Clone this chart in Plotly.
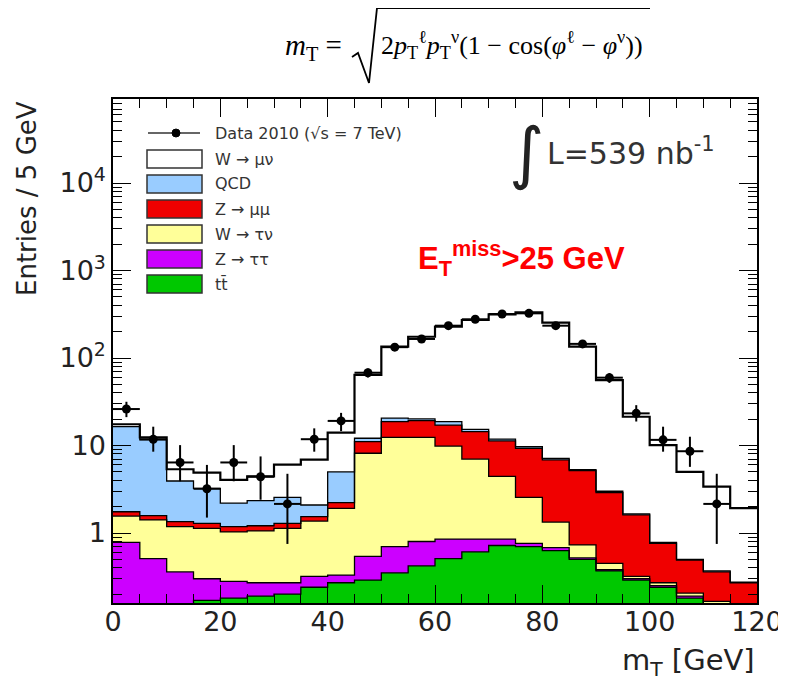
import plotly.graph_objects as go
import numpy as np

# ---- data ----
mt_bin_low = [0, 5, 10, 15, 20, 25, 30, 35, 40, 45, 50, 55, 60, 65, 70, 75, 80, 85, 90, 95, 100, 105, 110, 115]
bin_width = 5

ttbar   = [0.05, 0.08, 0.14, 0.17, 0.18, 0.19, 0.20, 0.24, 0.27, 0.29, 0.35, 0.42, 0.51, 0.61, 0.72, 0.70, 0.63, 0.50, 0.37, 0.29, 0.24, 0.18, 0.15, 0.10]
ztautau = [0.73, 0.43, 0.22, 0.13, 0.10, 0.08, 0.07, 0.08, 0.06, 0.25, 0.35, 0.38, 0.34, 0.24, 0.13, 0.06, 0.05, 0.02, 0.01, 0.01, 0.01, 0.01, 0.005, 0.01]
wtaunu  = [0.78, 0.90, 0.82, 0.83, 0.75, 0.79, 0.86, 1.05, 1.58, 7.61, 11.7, 11.6, 9.01, 6.15, 3.58, 1.80, 0.65, 0.21, 0.07, 0.02, 0.02, 0.015, 0.01, 0.01]
zmumu   = [0.19, 0.17, 0.17, 0.16, 0.15, 0.15, 0.16, 0.17, 0.31, 2.95, 6.3, 6.8, 7.24, 7.4, 6.87, 6.74, 5.52, 4.42, 2.44, 1.29, 0.49, 0.285, 0.195, 0.15]
qcd     = [14.65, 10.02, 2.58, 1.95, 1.01, 1.14, 1.27, 0.55, 2.78, 1.0, 1.8, 0.9, 1.6, 0.9, 0.5, 0.4, 0.29, 0.15, 0.11, 0.04, 0.02, 0.01, 0.01, 0.005]
wmunu   = [1.1, 0.8, 1.42, 1.65, 1.85, 2.08, 3.48, 4.81, 9.0, 51.9, 114.5, 154.9, 209.3, 256.7, 304.2, 323.3, 245.9, 129.7, 53.0, 19.65, 9.32, 4.5, 3.02, 1.645]

data_counts = [26.1, 11.8, 6.4, 3.2, 6.4, 4.4, 2.15, 11.8, 19.1, 67.9, 133, 165, 234, 277, 318, 324, 234, 145, 59.6, 23.3, 11.6, 8.6, 2.15, None]
data_err_up = [5.5, 4.6, 3.7, 2.8, 3.7, 3.1, 2.6, 3.9, 4.5, 8, 11.5, 13, 15, 17, 18, 18, 15, 12, 7.7, 5.6, 4.8, 4.0, 2.6, None]
data_err_dn = [5.0, 3.3, 2.5, 1.7, 2.5, 2.0, 1.4, 3.3, 4.5, 8, 11.5, 13, 15, 17, 18, 18, 15, 12, 7.7, 4.5, 3.1, 2.9, 1.4, None]

layers = [  # bottom -> top
    ("tt\u0304", ttbar, "#00c800"),
    ("Z \u2192 \u03c4\u03c4", ztautau, "#cc00ff"),
    ("W \u2192 \u03c4\u03bd", wtaunu, "#ffff99"),
    ("Z \u2192 \u03bc\u03bc", zmumu, "#f00000"),
    ("QCD", qcd, "#99ccff"),
    ("W \u2192 \u03bc\u03bd", wmunu, "#ffffff"),
]

lo = np.array(mt_bin_low, dtype=float)
centers = lo + bin_width / 2
edges = np.append(lo, lo[-1] + bin_width)
cums = np.cumsum(np.array([l[1] for l in layers]), axis=0)

fig = go.Figure()
for (name, vals, col), cum in reversed(list(zip(layers, cums))):
    fig.add_trace(go.Bar(x=centers, y=cum, width=bin_width, marker=dict(color=col, line=dict(width=0)),
                         showlegend=False, hoverinfo="skip"))
for i, cum in enumerate(cums):
    fig.add_trace(go.Scatter(x=edges, y=np.append(cum, cum[-1]), mode="lines", line_shape="hv",
                             line=dict(color="black", width=2.2 if i == len(cums) - 1 else 1.3),
                             showlegend=False, hoverinfo="skip"))

mask = [v is not None for v in data_counts]
fig.add_trace(go.Scatter(
    x=centers[mask], y=[v for v in data_counts if v is not None], mode="markers",
    marker=dict(color="black", size=9),
    error_y=dict(type="data", symmetric=False, array=[v for v in data_err_up if v is not None],
                 arrayminus=[v for v in data_err_dn if v is not None], thickness=2, width=0, color="black"),
    error_x=dict(type="constant", value=bin_width / 2, thickness=2, width=0, color="black"),
    showlegend=False))

# plot area in screen pixels (page has an 8px body margin)
OFF = 8
L, R, T, B = 113, 757, 99, 603
def PX(p): return (p - L) / (R - L)
def PY(p): return (B - p) / (B - T)

shapes = []
ann = []
tick_font = dict(family="DejaVu Sans", size=27, color="#222")

# manual legend
leg_font = dict(family="DejaVu Sans", size=16, color="#333")
shapes.append(dict(type="line", xref="paper", yref="paper", x0=PX(148), x1=PX(200), y0=PY(133), y1=PY(133),
                   line=dict(color="#333", width=1.5)))
shapes.append(dict(type="circle", xref="paper", yref="paper", x0=PX(172), x1=PX(180), y0=PY(137), y1=PY(129),
                   fillcolor="black", line=dict(color="black", width=1)))
ann.append(dict(text="Data 2010 (\u221as = 7 TeV)", x=PX(213), y=PY(133), xref="paper", yref="paper",
                xanchor="left", yanchor="middle", showarrow=False, font=dict(family="DejaVu Sans", size=16, color="#333")))
for k, (name, vals, col) in enumerate(reversed(layers)):
    yc = 159 + 25 * k
    shapes.append(dict(type="rect", xref="paper", yref="paper", x0=PX(147), x1=PX(202), y0=PY(yc + 9), y1=PY(yc - 9),
                       fillcolor=col, line=dict(color="#333", width=1.5)))
    ann.append(dict(text=name, x=PX(213), y=PY(yc), xref="paper", yref="paper", xanchor="left", yanchor="middle",
                    showarrow=False, font=leg_font))

# luminosity
ann.append(dict(text="\u222b", x=PX(526), y=PY(153), xref="paper", yref="paper", xanchor="center", yanchor="middle",
                showarrow=False, font=dict(family="DejaVu Sans", size=68, color="#222")))
ann.append(dict(text="L=539 nb<sup>-1</sup>", x=PX(545), y=PY(152), xref="paper", yref="paper", xanchor="left",
                yanchor="middle", showarrow=False, font=dict(family="DejaVu Sans", size=30, color="#333")))
# MET cut
ann.append(dict(text="<b>E<sub>T</sub><sup>miss</sup>&gt;25 GeV</b>", x=PX(416), y=PY(258), xref="paper", yref="paper",
                xanchor="left", yanchor="middle", showarrow=False,
                font=dict(family="Liberation Sans", size=31, color="#ff0000")))
# axis titles
ann.append(dict(text="Entries / 5 GeV", x=PX(27), y=PY(199), xref="paper", yref="paper", textangle=-90,
                xanchor="center", yanchor="middle", showarrow=False, font=dict(family="DejaVu Sans", size=26, color="#222")))
ann.append(dict(text="m<sub>T</sub> [GeV]", x=PX(757), y=PY(662), xref="paper", yref="paper",
                xanchor="right", yanchor="middle", showarrow=False, font=dict(family="DejaVu Sans", size=29, color="#222")))
# formula
ann.append(dict(text="<i>m</i><sub>T</sub> =", x=PX(283), y=PY(47), xref="paper", yref="paper",
                xanchor="left", yanchor="middle", showarrow=False, font=dict(family="Liberation Serif", size=29, color="black")))
ann.append(dict(text="2<i>p</i><sub>T</sub><sup>\u2113</sup><i>p</i><sub>T</sub><sup>\u03bd</sup>(1 \u2212 cos(<i>\u03c6</i><sup>\u2113</sup> \u2212 <i>\u03c6</i><sup>\u03bd</sup>))",
                x=PX(379), y=PY(45), xref="paper", yref="paper",
                xanchor="left", yanchor="middle", showarrow=False, font=dict(family="Liberation Serif", size=26, color="black")))
shapes.append(dict(type="path", xref="paper", yref="paper",
                   path=f"M {PX(352)},{PY(57)} L {PX(358)},{PY(53)} L {PX(369)},{PY(83)} L {PX(377)},{PY(8)} L {PX(650)},{PY(8)}",
                   line=dict(color="black", width=1.8)))

fig.update_layout(
    template="none",
    width=786, height=686,
    margin=dict(l=L - OFF, r=786 - R + OFF, t=T - OFF, b=686 - B + OFF, autoexpand=False),
    plot_bgcolor="white", paper_bgcolor="white", barmode="overlay", bargap=0,
    showlegend=False, shapes=shapes, annotations=ann,
    xaxis=dict(range=[0, 120], tickvals=[0, 20, 40, 60, 80, 100, 120], ticks="inside", ticklen=18,
               tickwidth=1.2, tickcolor="black", mirror="allticks", showline=True, linecolor="black", linewidth=1.5,
               showgrid=False, zeroline=False, tickfont=tick_font, automargin=False, ticklabelstandoff=-6,
               minor=dict(ticks="inside", ticklen=9, dtick=5, tick0=0, tickcolor="black", showgrid=False)),
    yaxis=dict(type="log", range=[-0.80, 4.96], tickvals=[1, 10, 100, 1000, 10000],
               ticktext=["1", "10", "10<sup>2</sup>", "10<sup>3</sup>", "10<sup>4</sup>"],
               ticks="inside", ticklen=18, tickwidth=1.2, tickcolor="black", mirror="allticks", showline=True,
               linecolor="black", linewidth=1.5, showgrid=False, zeroline=False, tickfont=tick_font, automargin=False,
               minor=dict(ticks="inside", ticklen=9, dtick="D1", tickcolor="black", showgrid=False)),
)
fig.write_html("out.html")
